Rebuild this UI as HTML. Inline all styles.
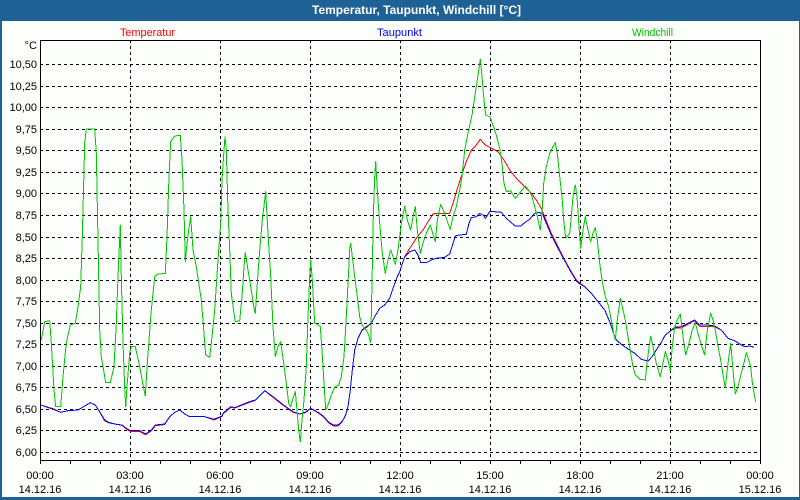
<!DOCTYPE html>
<html><head><meta charset="utf-8"><style>
html,body{margin:0;padding:0;width:800px;height:500px;overflow:hidden;background:#1e6194;}
svg{display:block;}
text{font-family:"Liberation Sans",sans-serif;font-size:11px;}
</style></head><body>
<svg width="800" height="500" viewBox="0 0 800 500" xmlns="http://www.w3.org/2000/svg">
<rect x="0" y="0" width="800" height="500" fill="#1e6194"/>
<rect x="2" y="21" width="797" height="476" fill="#fcfefc"/>
<text x="312" y="14" fill="#ffffff" style="font-weight:bold;font-size:11.5px" textLength="209" lengthAdjust="spacingAndGlyphs">Temperatur, Taupunkt, Windchill [°C]</text>
<text x="120" y="36" fill="#ff0000" textLength="55" lengthAdjust="spacingAndGlyphs">Temperatur</text>
<text x="377" y="36" fill="#0000ff" textLength="45" lengthAdjust="spacingAndGlyphs">Taupunkt</text>
<text x="632" y="36" fill="#00c000" textLength="41" lengthAdjust="spacingAndGlyphs">Windchill</text>
<g stroke="#000" stroke-width="1" stroke-dasharray="3,3" shape-rendering="crispEdges">
<line x1="40" y1="64.5" x2="760" y2="64.5"/>
<line x1="40" y1="86.5" x2="760" y2="86.5"/>
<line x1="40" y1="107.5" x2="760" y2="107.5"/>
<line x1="40" y1="129.5" x2="760" y2="129.5"/>
<line x1="40" y1="150.5" x2="760" y2="150.5"/>
<line x1="40" y1="172.5" x2="760" y2="172.5"/>
<line x1="40" y1="193.5" x2="760" y2="193.5"/>
<line x1="40" y1="215.5" x2="760" y2="215.5"/>
<line x1="40" y1="237.5" x2="760" y2="237.5"/>
<line x1="40" y1="258.5" x2="760" y2="258.5"/>
<line x1="40" y1="280.5" x2="760" y2="280.5"/>
<line x1="40" y1="301.5" x2="760" y2="301.5"/>
<line x1="40" y1="323.5" x2="760" y2="323.5"/>
<line x1="40" y1="344.5" x2="760" y2="344.5"/>
<line x1="40" y1="366.5" x2="760" y2="366.5"/>
<line x1="40" y1="387.5" x2="760" y2="387.5"/>
<line x1="40" y1="409.5" x2="760" y2="409.5"/>
<line x1="40" y1="430.5" x2="760" y2="430.5"/>
<line x1="40" y1="452.5" x2="760" y2="452.5"/>
<line x1="130.5" y1="40" x2="130.5" y2="460"/>
<line x1="220.5" y1="40" x2="220.5" y2="460"/>
<line x1="310.5" y1="40" x2="310.5" y2="460"/>
<line x1="400.5" y1="40" x2="400.5" y2="460"/>
<line x1="490.5" y1="40" x2="490.5" y2="460"/>
<line x1="580.5" y1="40" x2="580.5" y2="460"/>
<line x1="670.5" y1="40" x2="670.5" y2="460"/>
</g>
<g stroke="#000" stroke-width="1" shape-rendering="crispEdges">
<path d="M40.5 460 V464 M70.5 460 V464 M100.5 460 V464 M130.5 460 V464 M160.5 460 V464 M190.5 460 V464 M220.5 460 V464 M250.5 460 V464 M280.5 460 V464 M310.5 460 V464 M340.5 460 V464 M370.5 460 V464 M400.5 460 V464 M430.5 460 V464 M460.5 460 V464 M490.5 460 V464 M520.5 460 V464 M550.5 460 V464 M580.5 460 V464 M610.5 460 V464 M640.5 460 V464 M670.5 460 V464 M700.5 460 V464 M730.5 460 V464 M760.5 460 V464"/>
<rect x="40.5" y="40.5" width="720" height="420" fill="none"/>
</g>
<g fill="#000" text-anchor="end">
<text x="37" y="49">°C</text>
<text x="37" y="68">10,50</text>
<text x="37" y="90">10,25</text>
<text x="37" y="111">10,00</text>
<text x="37" y="133">9,75</text>
<text x="37" y="154">9,50</text>
<text x="37" y="176">9,25</text>
<text x="37" y="197">9,00</text>
<text x="37" y="219">8,75</text>
<text x="37" y="241">8,50</text>
<text x="37" y="262">8,25</text>
<text x="37" y="284">8,00</text>
<text x="37" y="305">7,75</text>
<text x="37" y="327">7,50</text>
<text x="37" y="348">7,25</text>
<text x="37" y="370">7,00</text>
<text x="37" y="391">6,75</text>
<text x="37" y="413">6,50</text>
<text x="37" y="434">6,25</text>
<text x="37" y="456">6,00</text>
</g>
<g fill="#000" text-anchor="middle">
<text x="40" y="479">00:00</text><text x="40" y="493">14.12.16</text>
<text x="130" y="479">03:00</text><text x="130" y="493">14.12.16</text>
<text x="220" y="479">06:00</text><text x="220" y="493">14.12.16</text>
<text x="310" y="479">09:00</text><text x="310" y="493">14.12.16</text>
<text x="400" y="479">12:00</text><text x="400" y="493">14.12.16</text>
<text x="490" y="479">15:00</text><text x="490" y="493">14.12.16</text>
<text x="580" y="479">18:00</text><text x="580" y="493">14.12.16</text>
<text x="670" y="479">21:00</text><text x="670" y="493">14.12.16</text>
<text x="760" y="479">00:00</text><text x="760" y="493">15.12.16</text>
</g>
<g fill="none" stroke-width="1" stroke-linejoin="round" shape-rendering="crispEdges">
<polyline stroke="#ff0000" points="40.7,405 48,407.5 54.7,410 60.7,412.3 68,410.7 78,410 84.7,406 90.3,402.7 95.3,405 99.7,412 104.7,421 108.7,422.8 114.7,424 122,425.3 126.3,429 130.3,431.5 139.7,431.5 145.7,434.8 151.3,430.8 155.3,425.8 164.7,424.5 169.7,416.7 174.7,412.3 179.7,410 184.7,414 189.7,416.7 204.7,416.7 214,420 222,416.5 223,414 230.7,407.3 234.7,408 241.3,405.5 249.7,402.3 255.3,400.5 264.7,390.7 273,397.3 281.3,403.8 288,408.8 293,412.3 299.7,414 305.3,412.8 310.7,408.3 318,412.8 324,417.3 328,422.3 333,425.8 338,425.8 342,422 345.7,415 348,406.7 350.3,390 352.3,370 354.7,350 358,338.3 362,330.5 366.3,327.5 371.3,323.3 374.7,316.7 379.7,308.3 384.7,305 389.7,298.3 393,288.3 397.3,276.7 399.7,271.7 404.7,256.7 409.7,248.3 416.3,238.3 423,230 428,221.7 433,214 438,213.3 444.7,213.3 449.7,213.3 453,203.3 458,186.7 462.3,173.3 466.3,161.7 471.3,150 476.3,145 480.3,139.3 485.3,145 491.3,148.3 498,151.7 504,160 509.7,170 516.3,178.3 524.7,186.7 531.3,193.3 536.3,200 541.3,208.3 544.7,216.7 551.3,233.3 558,246.7 564.7,260 571.3,271.7 576.3,280 578,281.5 584.7,286.7 591.3,293.3 598,301.7 604.7,310 609.7,321.7 613,331.7 616.3,340 621.3,344.3 628,349 634.7,353.3 641.3,359.3 648,361 652,356.7 656.3,350 660.7,343.3 665.3,335 670.3,331 674.7,328.3 681.3,328 688,324.3 694.7,320.5 699.7,326.5 706.3,326.5 714.7,326.8 721.3,330 728,338.3 734.7,340.7 741.3,345 744.7,346.7 749.7,346 754,347.3"/>
<polyline stroke="#0000ff" points="40.7,405 48,407.3 54.7,409.3 60.7,412.3 68,410.7 78,410 84.7,406 90.3,402.7 95.3,405 99.7,411.7 104.7,420 108.7,422.3 114.7,424 122,425 126.3,428.3 130.3,430.7 139.7,430.7 145.7,434 151.3,430 155.3,425 164.7,424 169.7,416.7 174.7,412.3 179.7,410 184.7,414 189.7,416.7 204.7,416.7 214,419.3 222,416 223,413.3 230.7,406.7 234.7,407.7 241.3,405 249.7,401.7 255.3,400 264.7,390.7 273,396.7 281.3,403.3 288,408.3 293,411.7 299.7,414 305.3,412.3 310.7,408.3 318,412.3 324,416.7 328,421.7 333,425 338,425 342,421.7 345.7,415 348,406.7 350.3,390 352.3,370 354.7,350 358,338.3 362,330 366.3,326.7 371.3,323.3 374.7,316.7 379.7,308.3 384.7,305 389.7,298.3 393,288.3 397.3,276.7 399.7,271.7 404.7,256.7 409.7,251.7 414.7,250 418,255 420.7,262.7 426.3,262.7 431.3,260 436.3,258.3 444.7,257.3 449.7,254 452,246.7 455.3,236 459.7,235 466.3,234.3 469,223.3 471.3,217.7 476.3,216.7 479.7,213.3 483,215 485.3,218.3 489.7,211.7 494.7,211.7 501.3,212.3 506.3,218.3 511.3,222.7 515.3,226 520.7,226 524.7,222.7 529.7,219.3 534.7,213.3 539.7,212.3 543,215 546.3,223.3 551.3,235 558,248.3 564.7,260.7 571.3,272.7 576.3,280.7 578,282.7 584.7,286.7 591.3,293.3 598,301.7 604.7,310 609.7,321.7 613,331.7 616.3,340 621.3,344.3 628,349 634.7,353.3 641.3,359.3 648,361 652,356.7 656.3,350 660.7,343.3 665.3,335 670.3,331 674.7,327.3 681.3,326.7 688,323.3 694.7,320 699.7,325 706.3,325 714.7,326 721.3,330 728,338.3 734.7,340.7 741.3,345 744.7,346.7 749.7,346 754,347.3"/>
<polyline stroke="#00c800" points="41.3,340 44.7,321.7 49.7,320.7 51.3,343 54,390 55.7,406.7 60.7,406.7 63,376.7 66.3,343 70.3,325 75.3,323.3 78,306.7 80.7,286.7 82.3,236.7 84.7,143.3 86.3,129 94.7,129 96.3,153 98,240 99.7,330 101.3,356.7 105.7,382.7 110.3,382.7 114,366.7 116.3,323.3 118,276.7 120.3,225 121.3,276.7 123,343 124.7,388.3 125.7,406.7 127,386.7 129.7,353.3 131.3,346.7 135.3,346.7 139.7,366.7 144,390 145.3,396 147.3,363.3 151.3,310 154.7,276.7 157.3,274.3 165.3,273.3 167,236.7 169,176.7 170.7,141.7 174.7,136 180.3,135.3 182,160 184,210 185.3,261.7 187,243.3 188.7,230 190.7,216.7 193,250 196.3,266.7 201.3,300 203.7,330 205.7,355 209.7,357.3 212,336.7 214.7,310 218,260 220.7,223.3 222,180 224,150 225,137 226.3,150 228,210 229.7,250 231.3,293.3 234,313.3 235.3,321.7 239.7,320.7 242,296.7 244,266.7 245.3,252.7 248,270 251.3,290 254,308.3 255.3,313.3 257.3,283.3 259.7,250 262.3,220 264.7,200 265.7,191.7 268,233.3 270.7,276.7 273,326.7 275.3,356.7 278,346.7 280.7,341.7 283.7,363.3 286.3,383.3 288.7,403.3 290.7,406.7 293,398.3 295.3,391.7 297,410 298.7,430 300.3,441.7 302,420 304,400 306.3,366.7 308,316.7 309.7,276.7 310.7,260 312.3,280 314.7,323.3 318,325 320.3,326.7 322,350 324,383.3 325.7,410 328,405 331.3,395 334.7,387.3 338.7,385 341.3,376.7 344,356.7 346.3,316.7 348,283.3 349.7,250 350.7,243.3 352.3,256.7 354.7,276.7 357.3,296.7 359.7,316.7 362,325 366.3,330 368.7,335 370.7,342.7 372,283.3 373.3,216.7 374.7,176.7 375.7,161.7 377.3,190 379.7,223.3 382,250 384,265 385.3,273.3 388,260 390.7,250 393,256.7 395.3,264.3 398,250 401.3,224 404.7,206 407.3,220 410.7,230 413,216.7 415.3,206.7 417.3,230 420.3,253.3 423,243.3 426.3,233.3 430.3,225 432.3,231.7 435.3,241.7 437.3,220 440.7,204.3 444.7,213.3 448,223.3 450.3,229.3 453,216.7 456.3,206.7 459.7,190 462,176.7 464.7,150 468,133.3 472,115 475.3,93.3 478,75 480.3,59.3 482,76.7 484,100 485.7,115 489.7,116.7 493,125 496.3,135 499.7,148.3 502,163.3 504,183.3 506.3,191.7 510.7,190.7 513,195 515.3,198.3 518.7,194.3 522,190 525.3,186 529.7,191.7 532,196.7 534.7,206.7 537.3,216.7 540.3,230 542,213.3 543.7,183.3 546.3,166.7 549.7,153.3 553,146.7 555.3,142.7 557.3,153.3 559.7,176.7 562,196.7 563.7,220 565.7,238.3 569.7,233.3 571.3,216.7 573,196.7 575.3,185 577,196.7 579,226.7 580.7,248.3 583,230 585.3,216.7 588,230 590.7,241.7 593,233.3 595.3,227.7 597.3,240 599.7,263.3 602,280 605.3,296.7 608.7,306.7 611.3,320 613.7,333.3 615.3,340 617.3,320 620.3,298.3 622.3,306.7 625.3,320 628,336.7 630.7,353.3 633,366.7 635.3,375 639.7,379.3 645.3,380 647,363.3 648.7,350 650.7,336 653,346.7 656.3,363.3 660.3,376.7 663,363.3 665.3,351.7 668,360 670.3,370.7 672.3,346.7 674.7,326.7 677.3,320 680.3,314 683,336.7 685.7,355 689,343.3 692.3,330 695.3,322.7 698,333.3 701.3,345 704.7,355 707.3,330 710.7,313.3 713,320 715.3,330 718,346.7 720.7,360 723,375 725.3,387.7 728,363.3 730.7,343.3 733,370 735.3,394 738,386.7 741.3,373.3 744.7,360 746.3,352.7 748.7,360 750.7,366.7 752,380 754,393.3 755.7,401.7"/>
</g>
</svg>
</body></html>
